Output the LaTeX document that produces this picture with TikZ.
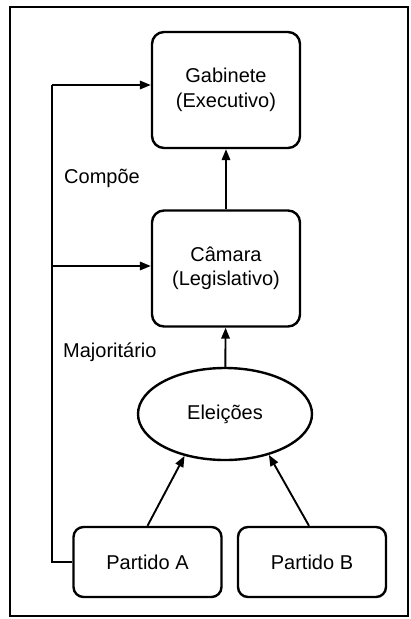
\documentclass[tikz,border=0pt]{standalone}
\usepackage{fontspec}
\setmainfont{Liberation Sans}
\usetikzlibrary{arrows.meta,shapes.geometric}
\begin{document}
\begin{tikzpicture}[x=1pt,y=-1pt,
  txt/.style={font=\fontsize{20}{24.5}\selectfont},
  box/.style={draw,line width=2.4pt,rounded corners=12pt,align=center,txt,inner sep=0pt},
  bigbox/.style={box,minimum width=148pt,minimum height=116pt},
  partybox/.style={box,rounded corners=10pt,minimum width=148pt,minimum height=70pt},
  elipse/.style={draw,ellipse,line width=2.4pt,txt,inner sep=0pt,minimum width=174pt,minimum height=92pt},
  conn/.style={line width=1.9pt},
  arr/.style={conn,-{Triangle[length=11pt,width=8.5pt]}},
  lbl/.style={txt,anchor=west,inner sep=0pt}]
\useasboundingbox (0,0) rectangle (411,619);
\draw[line width=2.8pt] (10,7) rectangle (408,616);
\node[bigbox] (gab) at (226,90) {Gabinete\\(Executivo)};
\node[bigbox] (cam) at (226,268.5) {Câmara\\(Legislativo)};
\node[elipse] (ele) at (225,414) {Eleições};
\node[partybox] (pa) at (147.5,562) {Partido A};
\node[partybox] (pb) at (312,562) {Partido B};
\node[lbl] (comp) at (64,178) {Compõe};
\node[lbl] (maj) at (63,352) {Majoritário};
\coordinate (c1) at (52,85);
\coordinate (c2) at (52,266);
\draw[conn] (pa.west) -| (c1);
\draw[arr] (c1) -- (gab.west |- c1);
\draw[arr] (c2) -- (cam.west |- c2);
\draw[arr] (cam) -- (gab);
\draw[arr] (ele) -- (cam);
\draw[arr] (pa.north) -- (ele.226);
\draw[arr] ([xshift=-3pt]pb.north) -- (ele.317);
\end{tikzpicture}
\end{document}
